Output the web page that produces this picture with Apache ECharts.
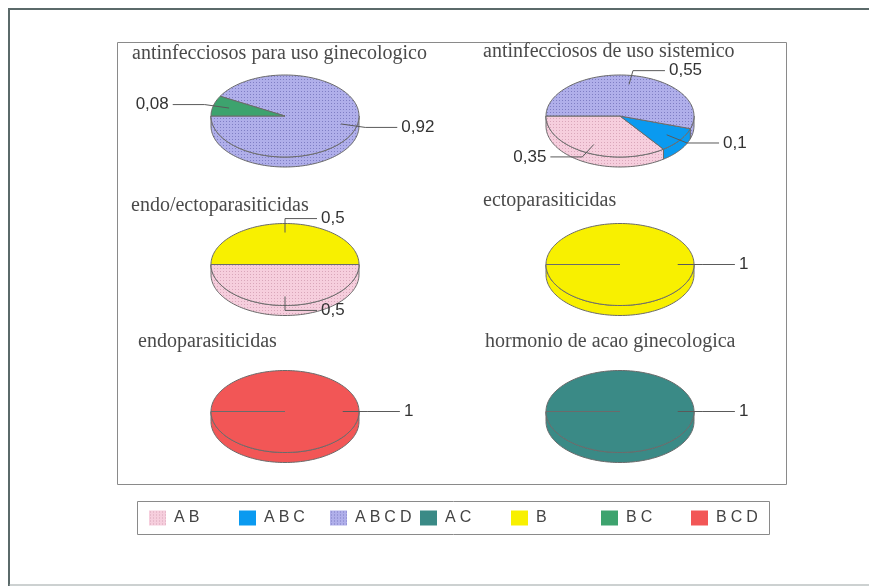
<!DOCTYPE html>
<html>
<head>
<meta charset="utf-8">
<script src="https://cdn.jsdelivr.net/npm/echarts@6/dist/echarts.min.js"></script>
<style>
  html, body { margin: 0; padding: 0; background: #ffffff; overflow: hidden; }
  #chart { width: 869px; height: 586px; }
</style>
</head>
<body>
<div id="chart"></div>
<script>
// Groups of the legend, in legend order
const categories = ['AB', 'ABC', 'ABCD', 'AC', 'B', 'BC', 'BCD'];
const categoryColors = ['#f3c6d6', '#0a9af0', '#a8a7e2', '#3a8a86', '#f8f000', '#3da36e', '#f25656'];

// One pie per therapeutic class
const pieTitles = [
  'antinfecciosos para uso ginecologico',
  'antinfecciosos de uso sistemico',
  'endo/ectoparasiticidas',
  'ectoparasiticidas',
  'endoparasiticidas',
  'hormonio de acao ginecologica'
];
// Slices of each pie, drawn clockwise from 9 o'clock
const pieSlices = [
  ['BC', 'ABCD'],
  ['ABCD', 'ABC', 'AB'],
  ['B', 'AB'],
  ['B'],
  ['BCD'],
  ['AC']
];
const pieValues = [
  [0.08, 0.92],
  [0.55, 0.1, 0.35],
  [0.5, 0.5],
  [1],
  [1],
  [1]
];

// ---- layout of the 3x2 grid of tilted pies ----
const COL_X = [285, 620];
const ROW_Y = [116, 264.5, 411.5];
const RX = 74, RY = 41, DEPTH = 10;
const titlePos = [[132, 44], [483, 42], [131, 196], [483, 191], [138, 332], [485, 332]];

// fine dotted fill used by the pastel groups
function dotted(base, dot) {
  const c = document.createElement('canvas');
  c.width = 3; c.height = 3;
  const g = c.getContext('2d');
  g.fillStyle = base; g.fillRect(0, 0, 3, 3);
  g.fillStyle = dot; g.fillRect(1, 1, 1, 1);
  return { image: c, repeat: 'repeat' };
}
const fills = {
  AB: dotted('#f6cedd', '#d9a6ba'),
  ABCD: dotted('#b0afea', '#7f7ec4')
};
function fillOf(name, color) { return fills[name] || color; }
function fmt(v) { return String(v).replace('.', ','); }

function makeRender(name, color) {
  const fill = fillOf(name, color);
  return function (params, api) {
    const p = api.value(0), s = api.value(1), v = api.value(2);
    const vals = pieValues[p];
    let cum = 0;
    for (let i = 0; i < s; i++) cum += vals[i];
    const a1 = 180 - 360 * cum;        // start angle (deg), going clockwise
    const a2 = a1 - 360 * v;           // end angle
    const cx = COL_X[p % 2], cy = ROW_Y[Math.floor(p / 2)];
    const pt = (deg, f, dy) => {
      const r = deg * Math.PI / 180;
      return [cx + RX * f * Math.cos(r), cy - RY * f * Math.sin(r) + (dy || 0)];
    };
    const arc = (from, to, dy) => {
      const pts = [];
      const n = Math.max(2, Math.ceil(Math.abs(from - to) / 2));
      for (let i = 0; i <= n; i++) pts.push(pt(from + (to - from) * i / n, 1, dy));
      return pts;
    };
    const children = [];
    // side wall (front half only)
    const lo = Math.max(a2, -180), hi = Math.min(a1, 0);
    if (hi > lo) {
      const side = arc(hi, lo, 0).concat(arc(lo, hi, DEPTH));
      children.push({
        type: 'polygon', z2: 1,
        shape: { points: side },
        style: { fill: fill, stroke: '#6b6b6b', lineWidth: 1 }
      });
    }
    // top face
    const top = [[cx, cy]].concat(arc(a1, a2, 0));
    children.push({
      type: 'polygon', z2: 2,
      shape: { points: top },
      style: { fill: fill, stroke: '#6b6b6b', lineWidth: 1 }
    });
    // leader line and value label
    const mid = (a1 + a2) / 2;
    const P = pt(mid, 0.78), E = pt(mid, 1.12);
    const dir = Math.cos(mid * Math.PI / 180) >= -1e-9 ? 1 : -1;
    const end = [E[0] + dir * 32, E[1]];
    children.push({
      type: 'polyline', z2: 10,
      shape: { points: [P, E, end] },
      style: { stroke: '#5a5a5a', lineWidth: 1, fill: null }
    });
    children.push({
      type: 'text', z2: 11,
      style: {
        text: fmt(v), x: end[0] + dir * 4, y: end[1],
        align: dir > 0 ? 'left' : 'right', verticalAlign: 'middle',
        font: '17px "Liberation Sans", Arial, sans-serif', fill: '#333333'
      }
    });
    return { type: 'group', children: children };
  };
}

// one series per group, its items being [pie, slice position, value]
const series = categories.map((c, ci) => {
  const data = [];
  pieSlices.forEach((names, p) => {
    names.forEach((n, s) => { if (n === c) data.push([p, s, pieValues[p][s]]); });
  });
  return {
    type: 'custom', name: c, coordinateSystem: 'none',
    itemStyle: { color: categoryColors[ci] },
    data: data, renderItem: makeRender(c, categoryColors[ci]), animation: false
  };
});

const legendX = [149, 239, 330, 420, 511, 601, 691];
const legends = categories.map((c, i) => ({
  data: [{ name: c, itemStyle: { color: fillOf(c, categoryColors[i]) } }],
  left: legendX[i], top: 510, padding: 0,
  icon: 'rect', itemWidth: 17, itemHeight: 15,
  selectedMode: false,
  formatter: n => n.split('').join('\u2005'),
  textStyle: { fontFamily: '"Liberation Sans", Arial, sans-serif', fontSize: 16, color: '#444', padding: [0, 0, 0, 3] }
}));

const titles = pieTitles.map((t, i) => ({
  text: t, left: titlePos[i][0], top: titlePos[i][1], padding: 0,
  textStyle: { fontFamily: '"Liberation Serif", "Times New Roman", serif', fontSize: 20, fontWeight: 'normal', color: '#4a4a4a' }
}));

const chart = echarts.init(document.getElementById('chart'), null, { renderer: 'canvas' });
chart.setOption({
  backgroundColor: '#ffffff',
  animation: false,
  title: titles,
  legend: legends,
  graphic: [
    // outer frame: left, top and bottom edges
    { type: 'line', z: -1, shape: { x1: 9, y1: 9, x2: 869, y2: 9 }, style: { stroke: '#5b6a6a', lineWidth: 2 } },
    { type: 'line', z: -1, shape: { x1: 9, y1: 8, x2: 9, y2: 586 }, style: { stroke: '#5b6a6a', lineWidth: 2 } },
    { type: 'line', z: -1, shape: { x1: 9, y1: 585, x2: 869, y2: 585 }, style: { stroke: '#9aa3a3', lineWidth: 1 } },
    { type: 'rect', z: -1, shape: { x: 117.5, y: 42.5, width: 669, height: 442 }, style: { fill: null, stroke: '#8a8a8a', lineWidth: 1 } },
    { type: 'rect', z: -1, shape: { x: 137.5, y: 501.5, width: 632, height: 33 }, style: { fill: null, stroke: '#8a8a8a', lineWidth: 1 } }
  ],
  series: series
});
</script>
</body>
</html>
